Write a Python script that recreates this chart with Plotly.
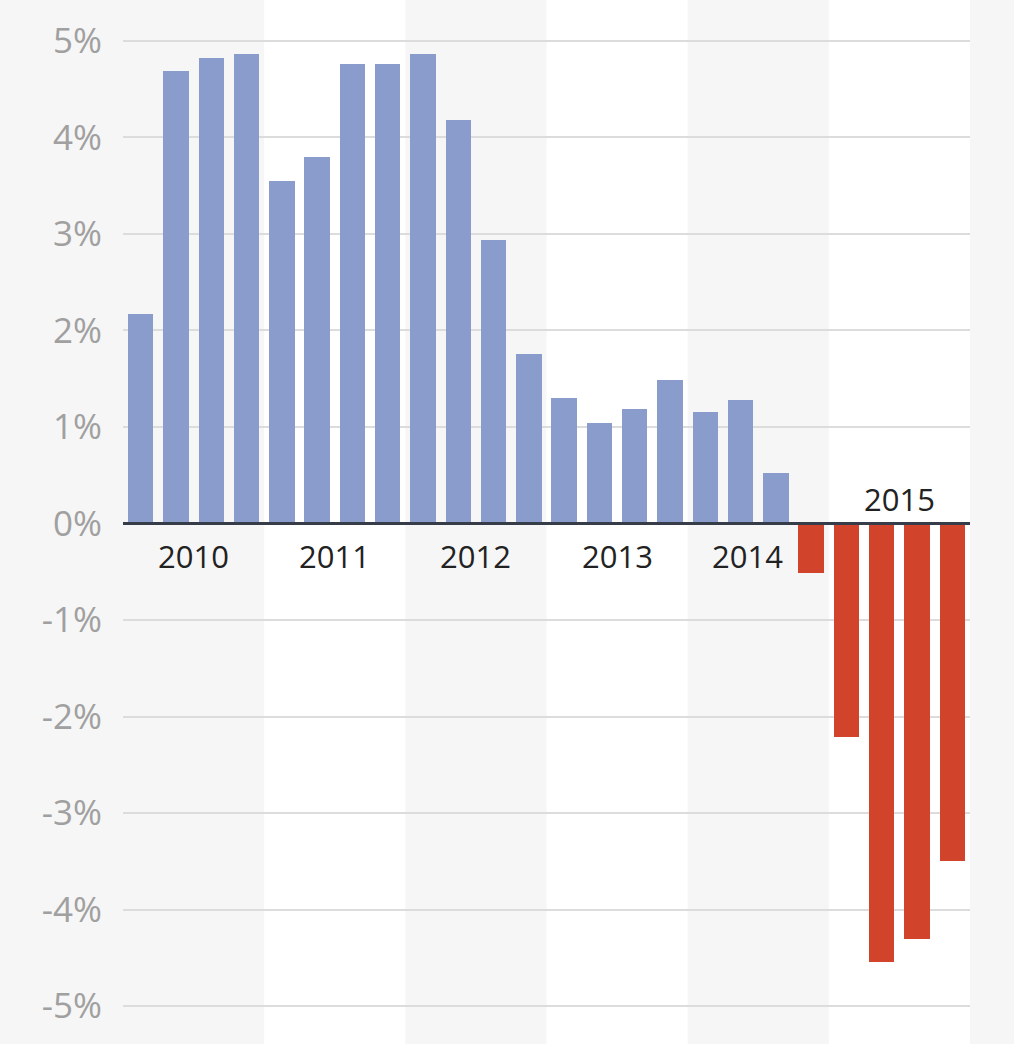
import plotly.graph_objects as go

quarters = ["2010 Q1", "2010 Q2", "2010 Q3", "2010 Q4",
            "2011 Q1", "2011 Q2", "2011 Q3", "2011 Q4",
            "2012 Q1", "2012 Q2", "2012 Q3", "2012 Q4",
            "2013 Q1", "2013 Q2", "2013 Q3", "2013 Q4",
            "2014 Q1", "2014 Q2", "2014 Q3", "2014 Q4",
            "2015 Q1", "2015 Q2", "2015 Q3", "2015 Q4"]
values = [2.17, 4.69, 4.82, 4.87,
          3.55, 3.80, 4.76, 4.76,
          4.87, 4.18, 2.94, 1.76,
          1.30, 1.04, 1.19, 1.49,
          1.16, 1.28, 0.52, -0.51,
          -2.21, -4.54, -4.31, -3.50]
years = ["2010", "2011", "2012", "2013", "2014", "2015"]
tick_vals = [5, 4, 3, 2, 1, 0, -1, -2, -3, -4, -5]
tick_text = ["5%", "4%", "3%", "2%", "1%", "0%", "-1%", "-2%", "-3%", "-4%", "-5%"]

BLUE = "#8a9ccb"
RED = "#d2432b"
BG = "#f6f6f6"

x_idx = list(range(len(quarters)))
colors = [BLUE if v >= 0 else RED for v in values]

fig = go.Figure()
fig.add_trace(go.Bar(x=x_idx, y=values, marker=dict(color=colors, line=dict(width=0)),
                     width=0.72, hovertext=quarters, hoverinfo="text+y"))

shapes = []
for i, yr in enumerate(years):
    if i % 2 == 1:
        shapes.append(dict(type="rect", xref="x", yref="paper",
                           x0=4 * i - 0.5, x1=4 * i + 3.5, y0=-0.05, y1=1.05,
                           fillcolor="white", line=dict(width=0), layer="below"))
# zero line
shapes.append(dict(type="line", xref="x", yref="y", x0=-0.5, x1=23.5, y0=0, y1=0,
                   line=dict(color="#363c48", width=3), layer="above"))
fig.update_layout(shapes=shapes)

# year labels
label_pos = [1.5, 5.5, 9.5, 13.5, 17.2, 21.5]
for i, yr in enumerate(years):
    above = yr == "2015"
    fig.add_annotation(x=label_pos[i], y=0, text=yr, showarrow=False,
                       yshift=25 if above else -32,
                       font=dict(family="Open Sans, sans-serif", size=31, color="#222222"))

fig.update_layout(
    width=1014, height=1044,
    margin=dict(l=123, r=44, t=12, b=9),
    paper_bgcolor=BG, plot_bgcolor=BG,
    showlegend=False,
    bargap=0,
    xaxis=dict(range=[-0.5, 23.5], showticklabels=False, showgrid=False,
               zeroline=False, showline=False, ticks=""),
    yaxis=dict(range=[-5.3, 5.3], tickvals=tick_vals, ticktext=tick_text,
               showgrid=True, gridcolor="#dcdcdc", gridwidth=2,
               zeroline=False, showline=False, ticks="", ticklabelstandoff=20,
               tickfont=dict(family="Open Sans, sans-serif", size=35, color="#a0a0a0")),
)

fig.write_html("out.html", config={"displayModeBar": False},
               post_script="document.body.style.margin='0';document.body.style.background='#f6f6f6';")
